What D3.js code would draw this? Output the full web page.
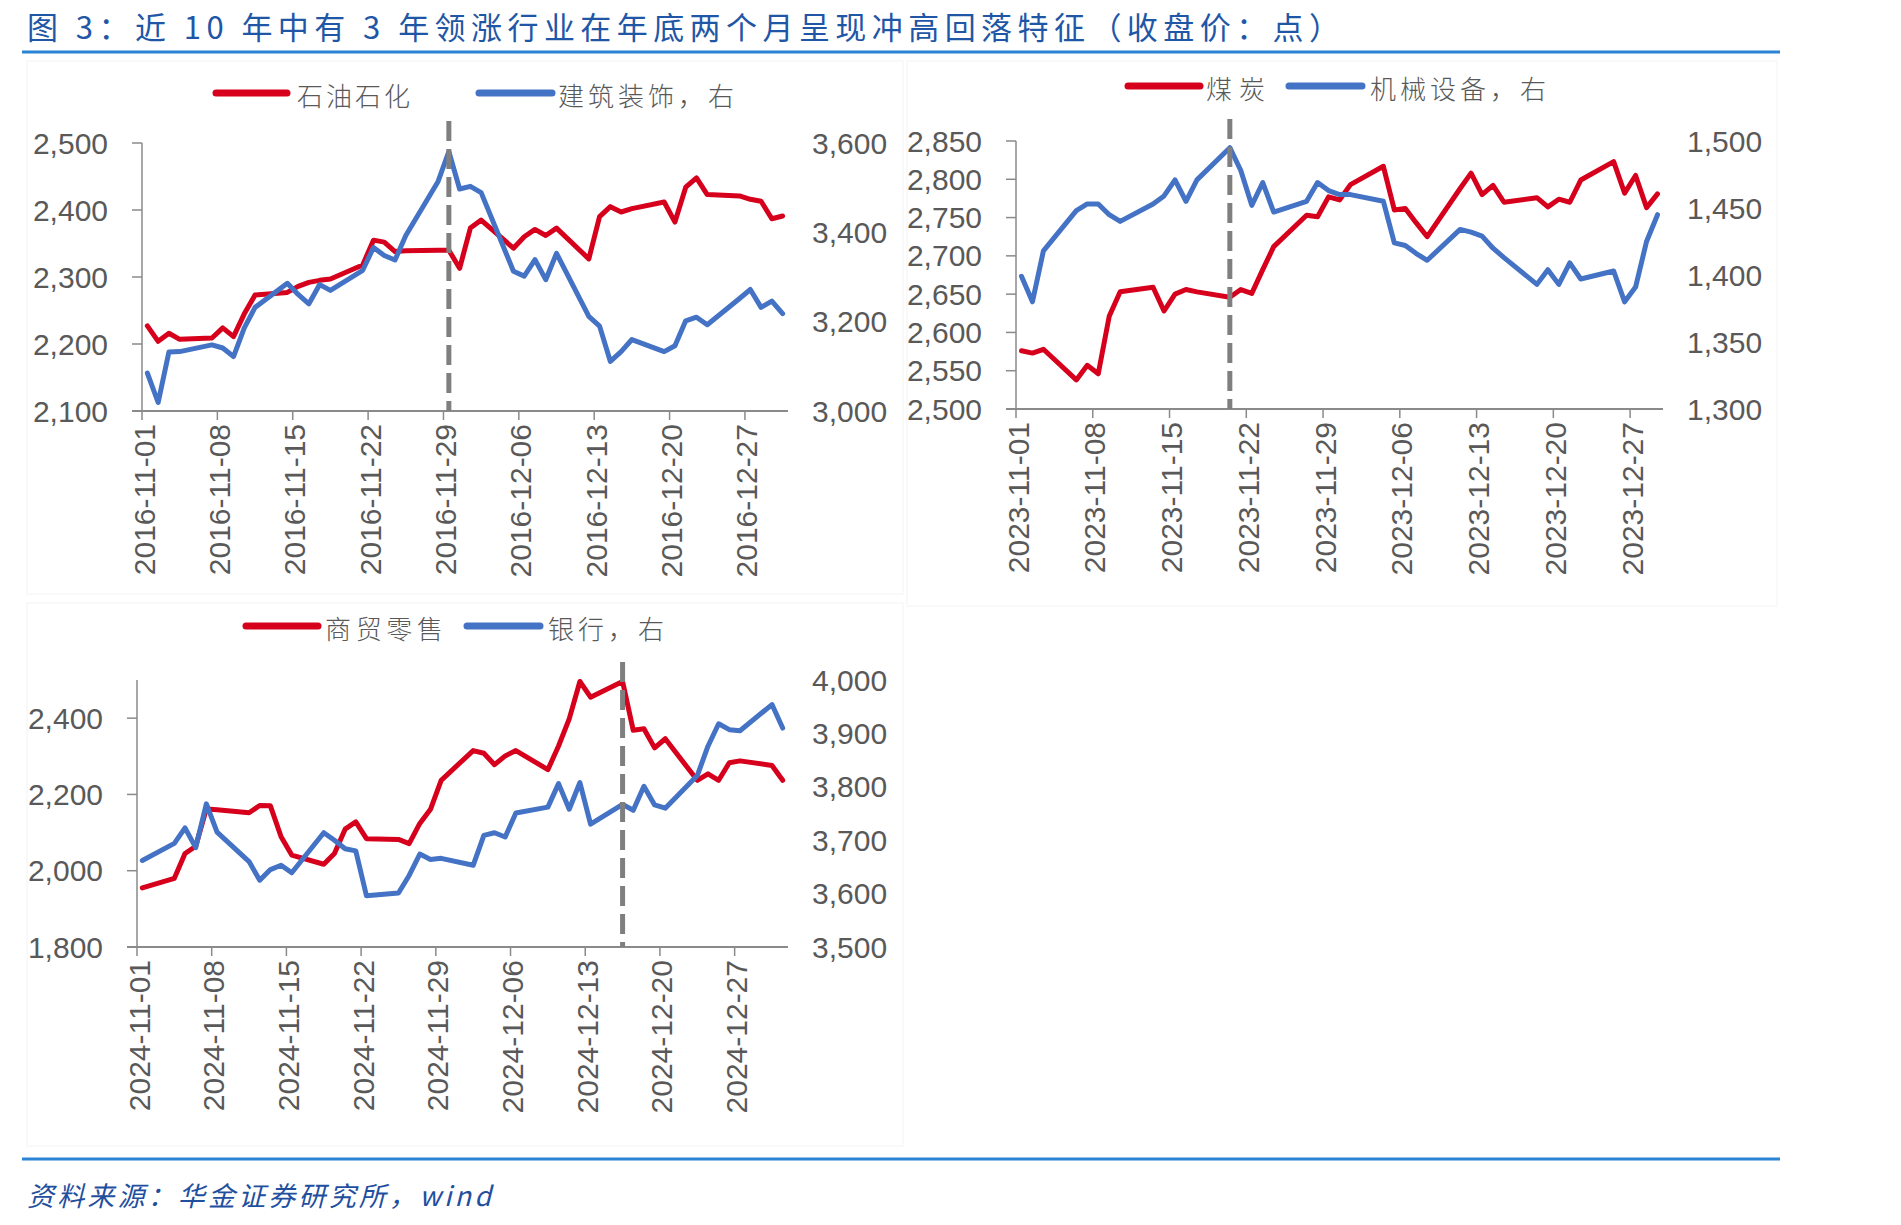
<!DOCTYPE html>
<html>
<head>
<meta charset="utf-8">
<script src="https://cdn.jsdelivr.net/npm/d3@7"></script>
<style>
  body { margin: 0; background: #fff; }
  svg { display: block; }
</style>
</head>
<body>
<script>
// ---- data (closing prices) ----
const dates2016 = ["2016-11-01","2016-11-02","2016-11-03","2016-11-04","2016-11-07","2016-11-08","2016-11-09","2016-11-10","2016-11-11",
  "2016-11-14","2016-11-15","2016-11-16","2016-11-17","2016-11-18","2016-11-21","2016-11-22","2016-11-23","2016-11-24","2016-11-25",
  "2016-11-28","2016-11-29","2016-11-30","2016-12-01","2016-12-02","2016-12-05","2016-12-06","2016-12-07","2016-12-08","2016-12-09",
  "2016-12-12","2016-12-13","2016-12-14","2016-12-15","2016-12-16","2016-12-19","2016-12-20","2016-12-21","2016-12-22","2016-12-23",
  "2016-12-26","2016-12-27","2016-12-28","2016-12-29","2016-12-30"];
const oil2016 = [2227,2204,2216,2207,2209,2224,2211,2245,2273,2277,2286,2292,2295,2297,2318,2355,2352,2338,2339,
  2340,2340,2313,2373,2385,2343,2360,2371,2362,2373,2327,2390,2405,2397,2402,2412,2382,2434,2448,2423,2421,2416,2413,2387,2391];
const build2016 = [3085,3019,3132,3133,3148,3141,3122,3186,3232,3286,3261,3240,3283,3270,3315,3366,3348,3338,3393,
  3514,3581,3497,3503,3489,3313,3302,3339,3294,3353,3212,3190,3111,3133,3160,3133,3146,3202,3210,3193,3252,3272,3232,3246,3218];

const dates2023 = ["2023-11-01","2023-11-02","2023-11-03","2023-11-06","2023-11-07","2023-11-08","2023-11-09","2023-11-10",
  "2023-11-13","2023-11-14","2023-11-15","2023-11-16","2023-11-17","2023-11-20","2023-11-21","2023-11-22","2023-11-23","2023-11-24",
  "2023-11-27","2023-11-28","2023-11-29","2023-11-30","2023-12-01","2023-12-04","2023-12-05","2023-12-06","2023-12-07","2023-12-08",
  "2023-12-11","2023-12-12","2023-12-13","2023-12-14","2023-12-15","2023-12-18","2023-12-19","2023-12-20","2023-12-21","2023-12-22",
  "2023-12-25","2023-12-26","2023-12-27","2023-12-28","2023-12-29"];
const coal2023 = [2576,2573,2578,2538,2557,2546,2621,2653,2659,2628,2650,2656,2653,2646,2656,2651,2682,2712,
  2753,2751,2777,2773,2793,2817,2760,2762,2743,2725,2788,2808,2780,2792,2770,2776,2764,2774,2770,2799,2823,2782,2805,2763,2781];
const machine2023 = [1399,1380,1418,1448,1453,1453,1445,1440,1453,1459,1471,1455,1471,1495,1478,1452,1469,1447,
  1455,1469,1463,1460,1460,1455,1424,1422,1416,1411,1434,1432,1429,1420,1413,1393,1404,1393,1409,1397,1403,1380,1391,1425,1445];

const dates2024 = ["2024-11-01","2024-11-04","2024-11-05","2024-11-06","2024-11-07","2024-11-08","2024-11-11","2024-11-12",
  "2024-11-13","2024-11-14","2024-11-15","2024-11-18","2024-11-19","2024-11-20","2024-11-21","2024-11-22","2024-11-25","2024-11-26",
  "2024-11-27","2024-11-28","2024-11-29","2024-12-02","2024-12-03","2024-12-04","2024-12-05","2024-12-06","2024-12-09","2024-12-10",
  "2024-12-11","2024-12-12","2024-12-13","2024-12-16","2024-12-17","2024-12-18","2024-12-19","2024-12-20","2024-12-23","2024-12-24",
  "2024-12-25","2024-12-26","2024-12-27","2024-12-30","2024-12-31"];
const retail2024 = [1955,1980,2045,2064,2162,2160,2152,2171,2170,2089,2041,2017,2045,2109,2128,2084,2082,2071,
  2124,2161,2237,2315,2308,2278,2301,2315,2265,2327,2398,2496,2455,2496,2368,2372,2322,2346,2237,2254,2237,2283,2288,2276,2237];
const bank2024 = [3662,3694,3723,3686,3768,3715,3660,3625,3645,3653,3639,3714,3700,3684,3680,3596,3601,3634,
  3674,3664,3666,3653,3709,3714,3706,3751,3762,3806,3758,3808,3730,3767,3756,3801,3766,3760,3821,3876,3918,3907,3905,3954,3910];

const ticks2016 = [2100, 2200, 2300, 2400, 2500], ticksR2016 = [3000, 3200, 3400, 3600];
const ticks2023 = [2500, 2550, 2600, 2650, 2700, 2750, 2800, 2850], ticksR2023 = [1300, 1350, 1400, 1450, 1500];
const ticks2024 = [1800, 2000, 2200, 2400], ticksR2024 = [3500, 3600, 3700, 3800, 3900, 4000];

const titleText = "图 3：近 10 年中有 3 年领涨行业在年底两个月呈现冲高回落特征（收盘价：点）";
const sourceText = "资料来源：华金证券研究所，wind";

const RED = "#d6001c", BLUE = "#4472c4", GREY_TXT = "#595959", AXIS = "#8a8a8a";
const CJK = "'Noto Sans CJK SC', 'Noto Sans', sans-serif";
const NUM = "'Liberation Sans', Arial, sans-serif";

const parse = d3.utcParse("%Y-%m-%d");
const fmt = d3.format(",");

const svg = d3.select("body").append("svg")
  .attr("width", 1901)
  .attr("height", 1225);

// Title and rules
svg.append("text")
  .attr("x", 27).attr("y", 25)
  .attr("dominant-baseline", "central")
  .attr("textLength", 1313).attr("lengthAdjust", "spacing")
  .style("font-family", CJK).style("font-size", "31px")
  .style("fill", "#1f57a6")
  .text(titleText);

[52, 1159].forEach(y => {
  svg.append("line")
    .attr("x1", 22).attr("x2", 1780).attr("y1", y).attr("y2", y)
    .attr("stroke", "#2b83d3").attr("stroke-width", 3);
});

svg.append("text")
  .attr("x", 27).attr("y", 1194)
  .attr("dominant-baseline", "central")
  .attr("textLength", 464).attr("lengthAdjust", "spacing")
  .style("font-family", CJK).style("font-size", "27px").style("font-style", "italic")
  .style("fill", "#1f4f9e")
  .text(sourceText);

// Faint chart-area borders
[[27, 61, 876, 533], [907, 61, 870, 545], [27, 603, 876, 543]].forEach(b => {
  svg.append("rect")
    .attr("x", b[0]).attr("y", b[1]).attr("width", b[2]).attr("height", b[3])
    .attr("fill", "none").attr("stroke", "#f4f4f4").attr("stroke-width", 1);
});

// Panels
const panels = [
  {
    dates: dates2016, left: oil2016, right: build2016,
    names: ["石油石化", "建筑装饰，右"],
    start: "2016-11-01", end: "2016-12-31", mark: "2016-11-29",
    leftDomain: [2100, 2500], leftTicks: ticks2016,
    rightDomain: [3000, 3600], rightTicks: ticksR2016,
    box: { l: 142, r: 788, t: 143, b: 411 }, markTop: 121,
    legend: { y: 93, items: [[216, 287, 297, 113], [479, 552, 558, 176]] }
  },
  {
    dates: dates2023, left: coal2023, right: machine2023,
    names: ["煤炭", "机械设备，右"],
    start: "2023-11-01", end: "2023-12-30", mark: "2023-11-20",
    leftDomain: [2500, 2850], leftTicks: ticks2023,
    rightDomain: [1300, 1500], rightTicks: ticksR2023,
    box: { l: 1016, r: 1663, t: 141, b: 409 }, markTop: 119,
    legend: { y: 86, items: [[1128, 1200, 1206, 59], [1289, 1362, 1370, 176]] }
  },
  {
    dates: dates2024, left: retail2024, right: bank2024,
    names: ["商贸零售", "银行，右"],
    start: "2024-11-01", end: "2025-01-01", mark: "2024-12-16",
    leftDomain: [1800, 2500], leftTicks: ticks2024,
    rightDomain: [3500, 4000], rightTicks: ticksR2024,
    box: { l: 137, r: 788, t: 680, b: 947 }, markTop: 662,
    legend: { y: 626, items: [[246, 318, 325, 118], [467, 540, 548, 116]] }
  }
];

function drawPanel(p) {
  const g = svg.append("g");
  const bx = p.box;

  // Excel-style date axis: each day is a slot, points sit in the middle of it.
  const x = d3.scaleUtc().domain([parse(p.start), parse(p.end)]).range([bx.l, bx.r]);
  const yL = d3.scaleLinear().domain(p.leftDomain).range([bx.b, bx.t]);
  const yR = d3.scaleLinear().domain(p.rightDomain).range([bx.b, bx.t]);
  const mid = s => d3.utcHour.offset(parse(s), 12);

  // Axes lines
  g.append("line")
    .attr("x1", bx.l).attr("x2", bx.l).attr("y1", yL(p.leftDomain[1])).attr("y2", bx.b)
    .attr("stroke", AXIS).attr("stroke-width", 1.5);
  g.append("line")
    .attr("x1", bx.l - 10).attr("x2", bx.r).attr("y1", bx.b).attr("y2", bx.b)
    .attr("stroke", AXIS).attr("stroke-width", 2);

  // Left ticks and labels
  p.leftTicks.forEach(v => {
    g.append("line")
      .attr("x1", bx.l - 10).attr("x2", bx.l).attr("y1", yL(v)).attr("y2", yL(v))
      .attr("stroke", AXIS).attr("stroke-width", 1.5);
    g.append("text")
      .attr("x", bx.l - 34).attr("y", yL(v))
      .attr("text-anchor", "end").attr("dominant-baseline", "central")
      .style("font-family", NUM).style("font-size", "30px").style("fill", GREY_TXT)
      .text(fmt(v));
  });

  // Right labels (no axis line)
  p.rightTicks.forEach(v => {
    g.append("text")
      .attr("x", bx.r + 24).attr("y", yR(v))
      .attr("text-anchor", "start").attr("dominant-baseline", "central")
      .style("font-family", NUM).style("font-size", "30px").style("fill", GREY_TXT)
      .text(fmt(v));
  });

  // Weekly date ticks
  const tickDates = d3.range(0, 57, 7).map(k => d3.utcDay.offset(parse(p.start), k));
  tickDates.forEach(d => {
    const tx = x(d);
    g.append("line")
      .attr("x1", tx).attr("x2", tx).attr("y1", bx.b).attr("y2", bx.b + 9)
      .attr("stroke", AXIS).attr("stroke-width", 1.5);
    g.append("text")
      .attr("transform", `translate(${tx + 2},${bx.b + 13}) rotate(-90)`)
      .attr("text-anchor", "end").attr("dominant-baseline", "central")
      .style("font-family", NUM).style("font-size", "30px").style("fill", GREY_TXT)
      .text(d3.utcFormat("%Y-%m-%d")(d));
  });

  // Series
  const lineL = d3.line().x((d, i) => x(mid(p.dates[i]))).y(d => yL(d));
  const lineR = d3.line().x((d, i) => x(mid(p.dates[i]))).y(d => yR(d));
  g.append("path").datum(p.left)
    .attr("d", lineL).attr("fill", "none")
    .attr("stroke", RED).attr("stroke-width", 5).attr("stroke-linejoin", "round").attr("stroke-linecap", "round");
  g.append("path").datum(p.right)
    .attr("d", lineR).attr("fill", "none")
    .attr("stroke", BLUE).attr("stroke-width", 5).attr("stroke-linejoin", "round").attr("stroke-linecap", "round");

  // Dashed marker
  const mx = x(mid(p.mark));
  g.append("line")
    .attr("x1", mx).attr("x2", mx).attr("y1", p.markTop).attr("y2", bx.b)
    .attr("stroke", "#7f7f7f").attr("stroke-width", 5).attr("stroke-dasharray", "20,8");

  // Legend
  const colors = [RED, BLUE];
  p.legend.items.forEach((it, i) => {
    g.append("line")
      .attr("x1", it[0]).attr("x2", it[1]).attr("y1", p.legend.y).attr("y2", p.legend.y)
      .attr("stroke", colors[i]).attr("stroke-width", 7).attr("stroke-linecap", "round");
    g.append("text")
      .attr("x", it[2]).attr("y", p.legend.y + 1)
      .attr("dominant-baseline", "central")
      .attr("textLength", it[3]).attr("lengthAdjust", "spacing")
      .style("font-family", CJK).style("font-size", "26px").style("font-weight", 300)
      .style("fill", GREY_TXT)
      .text(p.names[i]);
  });
}

panels.forEach(drawPanel);
</script>
</body>
</html>
